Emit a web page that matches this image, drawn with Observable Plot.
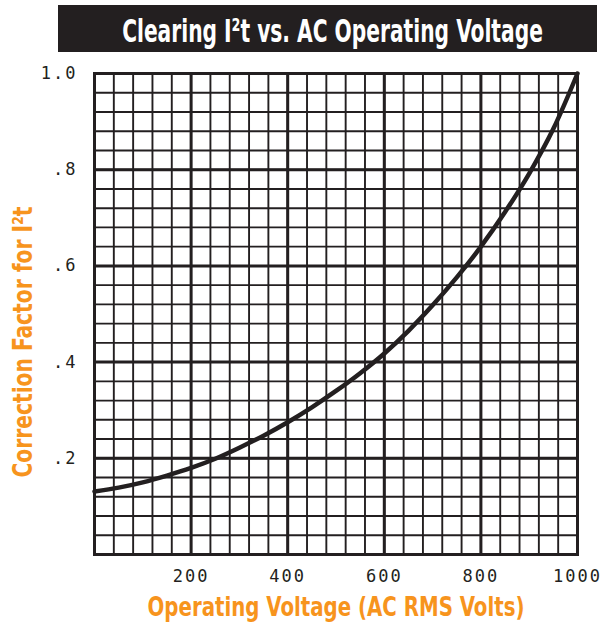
<!DOCTYPE html>
<html>
<head>
<meta charset="utf-8">
<script src="https://cdn.jsdelivr.net/npm/d3@7"></script>
<script src="https://cdn.jsdelivr.net/npm/@observablehq/plot@0.6"></script>
<style>
  html, body { margin: 0; padding: 0; background: #fff; }
  #title { display: block; }
</style>
</head>
<body>
<svg id="title" width="613" height="58">
  <rect x="58" y="5" width="539" height="47" fill="#231f20"></rect>
  <text id="titleText" x="0" y="0" text-anchor="middle" fill="#fff"
        font-family="DejaVu Sans Condensed, DejaVu Sans, sans-serif" font-weight="bold" font-size="32"
        transform="translate(332.5,42)">Clearing I²t vs. AC Operating Voltage</text>
</svg>
<div id="chart"></div>
<script>
// ---- data ----
const voltage = [0, 50, 100, 150, 200, 250, 300, 350, 400, 450, 500, 550, 600, 650, 700, 750, 800, 850, 900, 950, 1000];
const factor  = [0.131, 0.139, 0.150, 0.164, 0.180, 0.199, 0.222, 0.247, 0.275, 0.306, 0.340, 0.377, 0.418, 0.465, 0.518, 0.576, 0.640, 0.712, 0.792, 0.885, 1.0];

const xTicks = [200, 400, 600, 800, 1000];
const xTickLabels = ["200", "400", "600", "800", "1000"];
const yTicks = [0.2, 0.4, 0.6, 0.8, 1.0];
const yTickLabels = [".2", ".4", ".6", ".8", "1.0"];

const xMinorGrid = d3.range(0, 1001, 40);
const yMinorGrid = d3.range(0, 26).map(i => i / 25);
const xMajorGrid = [200, 400, 600, 800];
const yMajorGrid = [0.2, 0.4, 0.6, 0.8];

const xLabel = "Operating Voltage (AC RMS Volts)";
const yLabel = "Correction Factor for I²t";
const orange = "#f7941d";
const ink = "#231f20";

const data = voltage.map((v, i) => ({v, f: factor[i]}));

const labelFont = "DejaVu Sans Condensed, DejaVu Sans, sans-serif";

// squeeze the title horizontally to the reference width
const tt = document.getElementById("titleText");
const tLen = tt.getComputedTextLength();
if (tLen > 0) tt.setAttribute("transform", `translate(332.5,42) scale(${421 / tLen},1)`);

const chart = Plot.plot({
  width: 613,
  height: 568,
  marginLeft: 94,
  marginRight: 36,
  marginTop: 15,
  marginBottom: 72,
  style: {fontFamily: "DejaVu Sans Mono, monospace", fontSize: "17px", letterSpacing: "2px", color: ink, background: "#fff"},
  x: {domain: [0, 1000], ticks: xTicks, tickFormat: d => xTickLabels[xTicks.indexOf(d)], tickSize: 0, tickPadding: 15, label: null},
  y: {domain: [0, 1], ticks: yTicks, tickFormat: d => yTickLabels[yTicks.findIndex(t => Math.abs(t - d) < 1e-9)], tickSize: 0, tickPadding: 17, label: null},
  marks: [
    Plot.ruleX(xMinorGrid, {stroke: ink, strokeWidth: 1.9}),
    Plot.ruleY(yMinorGrid, {stroke: ink, strokeWidth: 1.9}),
    Plot.ruleX(xMajorGrid, {stroke: ink, strokeWidth: 3}),
    Plot.ruleY(yMajorGrid, {stroke: ink, strokeWidth: 3}),
    Plot.frame({stroke: ink, strokeWidth: 3}),
    Plot.line(data, {x: "v", y: "f", curve: "monotone-x", stroke: ink, strokeWidth: 4.5, strokeLinecap: "round"}),
    Plot.text([xLabel], {frameAnchor: "bottom", lineAnchor: "middle", textAnchor: "middle", dy: 53, fill: orange, fontSize: 26, fontWeight: "bold", fontFamily: labelFont}),
    Plot.text([yLabel], {frameAnchor: "left", lineAnchor: "middle", textAnchor: "middle", dx: -71, dy: 28, rotate: -90, fill: orange, fontSize: 26, fontWeight: "bold", fontFamily: labelFont})
  ]
});

d3.select(chart).selectAll("text")
  .filter(function() { return this.textContent === xLabel; })
  .attr("textLength", 377).attr("lengthAdjust", "spacingAndGlyphs").style("letter-spacing", "0px");
d3.select(chart).selectAll("text")
  .filter(function() { return this.textContent === yLabel; })
  .attr("textLength", 271).attr("lengthAdjust", "spacingAndGlyphs").style("letter-spacing", "0px");

document.getElementById("chart").appendChild(chart);
</script>
</body>
</html>
